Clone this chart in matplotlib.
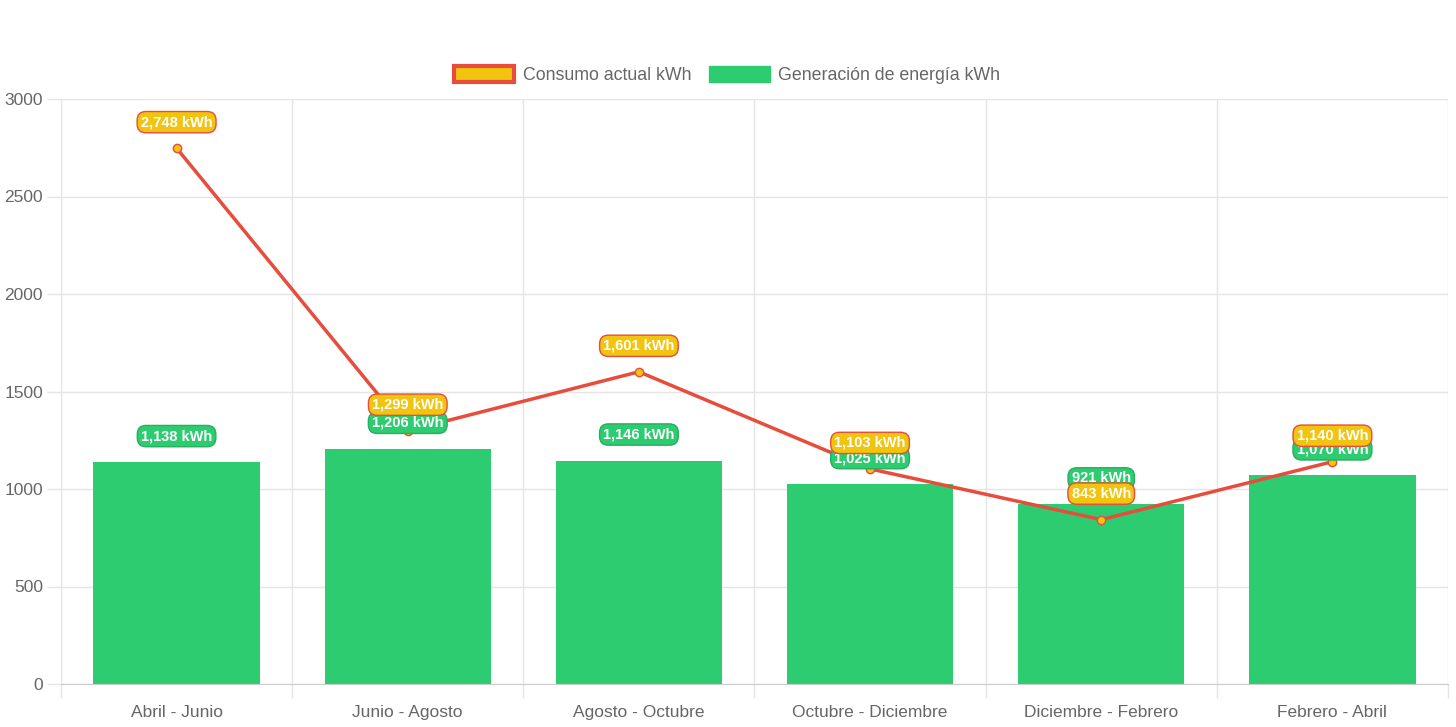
import matplotlib
matplotlib.use('Agg')
import matplotlib.pyplot as plt
from matplotlib.patches import Patch
import numpy as np

plt.rcParams['font.family'] = ['Liberation Sans', 'DejaVu Sans']

periods = ['Abril - Junio', 'Junio - Agosto', 'Agosto - Octubre',
           'Octubre - Diciembre', 'Diciembre - Febrero', 'Febrero - Abril']
consumo = [2748, 1299, 1601, 1103, 843, 1140]
generacion = [1138, 1206, 1146, 1025, 921, 1070]

RED = '#e74c3c'
YELLOW = '#f1c40f'
GREEN = '#2ecc71'
GREEN_EDGE = '#27ae60'
GRID = '#e5e5e5'
TEXT = '#666666'

fig = plt.figure(figsize=(14.56, 7.27), dpi=100)
ax = fig.add_axes([61 / 1456, 43 / 727, 1387 / 1456, 585 / 727])

x = np.arange(len(periods))
ax.bar(x, generacion, width=0.72, color=GREEN, zorder=2)
ax.plot(x, consumo, color=RED, lw=2.5, marker='o', markersize=6,
        markerfacecolor=YELLOW, markeredgecolor=RED, markeredgewidth=1, zorder=3)

ax.set_xlim(-0.5, len(periods) - 0.5)
ax.set_ylim(0, 3000)

# grid / ticks
ax.set_yticks(np.arange(0, 3001, 500))
ax.set_xticks(x)
ax.set_xticklabels(periods)
ax.set_xticks(np.arange(-0.5, len(periods), 1), minor=True)
ax.grid(axis='y', color=GRID, lw=1, zorder=0)
ax.grid(axis='x', which='minor', color=GRID, lw=1, zorder=0)
ax.tick_params(axis='x', which='major', length=0, pad=15, labelsize=12.5, labelcolor=TEXT)
ax.tick_params(axis='x', which='minor', length=10, color=GRID, width=1)
ax.tick_params(axis='y', length=10, color=GRID, width=1, pad=3, labelsize=12.5, labelcolor=TEXT)
for side in ['top', 'right']:
    ax.spines[side].set_visible(False)
ax.spines['left'].set_color(GRID)
ax.spines['bottom'].set_color('#cccccc')

# data labels
for xi, v in zip(x, generacion):
    ax.annotate(f'{v:,} kWh', (xi, v), xytext=(0, 26), textcoords='offset pixels',
                ha='center', va='center', fontsize=10.5, fontweight='bold', color='white',
                bbox=dict(boxstyle='round,pad=0.25,rounding_size=0.6', facecolor=GREEN,
                          edgecolor=GREEN_EDGE, linewidth=1), zorder=5)
for xi, v in zip(x, consumo):
    ax.annotate(f'{v:,} kWh', (xi, v), xytext=(0, 26), textcoords='offset pixels',
                ha='center', va='center', fontsize=10.5, fontweight='bold', color='white',
                bbox=dict(boxstyle='round,pad=0.25,rounding_size=0.6', facecolor=YELLOW,
                          edgecolor=RED, linewidth=1), zorder=6)

handles = [Patch(facecolor=YELLOW, edgecolor=RED, linewidth=3, label='Consumo actual kWh'),
           Patch(facecolor=GREEN, edgecolor=GREEN, linewidth=1, label='Generación de energía kWh')]
leg = fig.legend(handles=handles, loc='center', bbox_to_anchor=(727 / 1456, 1 - 75 / 727),
                 ncol=2, frameon=False, fontsize=12.8, handlelength=3.4, handleheight=1.0,
                 columnspacing=1.0, handletextpad=0.5)
for t in leg.get_texts():
    t.set_color(TEXT)

fig.savefig('out.png', dpi=100, facecolor='white')
